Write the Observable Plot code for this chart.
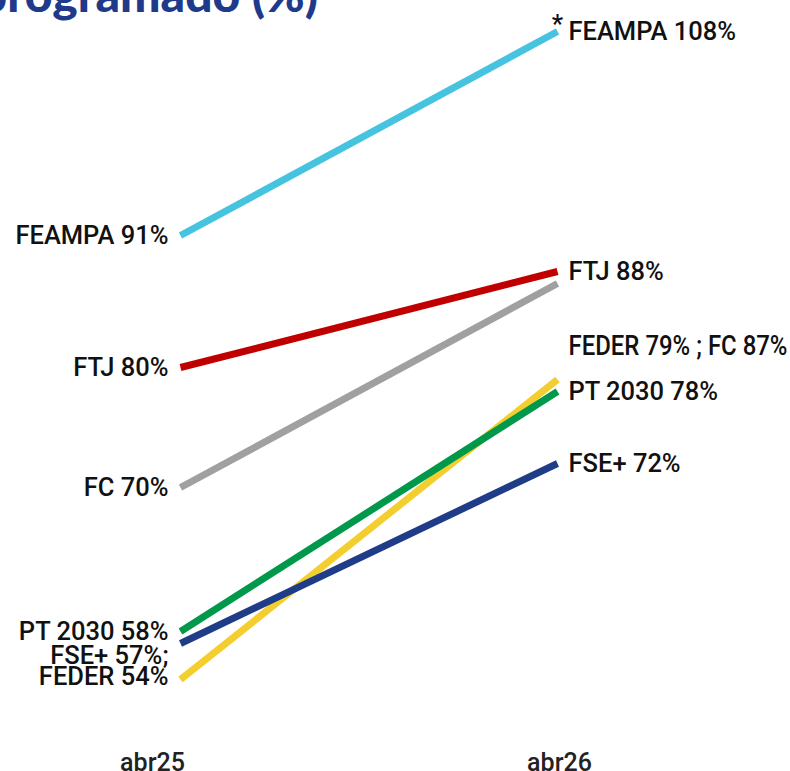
<!DOCTYPE html>
<html>
<head>
<meta charset="utf-8">
<script src="https://cdn.jsdelivr.net/npm/d3@7"></script>
<script src="https://cdn.jsdelivr.net/npm/@observablehq/plot@0.6"></script>
<style>
  html, body { margin: 0; padding: 0; background: #fff; overflow: hidden; }
  #wrap { position: relative; width: 790px; height: 771px; overflow: hidden; background: #fff; }
  #chart { position: absolute; left: 0; top: 0; z-index: 1; }
  #title { position: absolute; right: 472px; top: -30px; white-space: nowrap; z-index: 2;
    font-family: Lato, sans-serif; font-weight: 900; font-size: 48px; line-height: 48px; color: #1F3A8A; }
</style>
</head>
<body>
<div id="wrap">
  <div id="chart"></div>
  <div id="title">Taxa de compromisso face ao programado (%)</div>
</div>
<script>
const periods = ["abr25", "abr26"];
const funds = ["FEDER", "FC", "PT 2030", "FSE+", "FTJ", "FEAMPA"];
const valuesAbr25 = [54, 70, 58, 57, 80, 91];
const valuesAbr26 = [79, 87, 78, 72, 88, 108];
const colors = ["#F4CE2E", "#A0A0A0", "#00984A", "#1F3C88", "#C00000", "#45C3DF"];
const leftLabels = ["FEDER 54%", "FC 70%", "PT 2030 58%", "FSE+ 57%;", "FTJ 80%", "FEAMPA 91%"];
const rightLabels = ["FEDER 79% ; FC 87%", "", "PT 2030 78%", "FSE+ 72%", "FTJ 88%", "FEAMPA 108%"];
const starNote = "*";

const rows = [];
funds.forEach((f, i) => {
  rows.push({fund: f, period: periods[0], value: valuesAbr25[i]});
  rows.push({fund: f, period: periods[1], value: valuesAbr26[i]});
});
const left = funds.map((f, i) => ({fund: f, period: periods[0], value: valuesAbr25[i], label: leftLabels[i]}));
const right = funds.map((f, i) => ({fund: f, period: periods[1], value: valuesAbr26[i], label: rightLabels[i]}));

const font = "Roboto, sans-serif";
const lbl = {fontSize: 25.5, fontWeight: 500, fill: "#111", fontFamily: font, lineAnchor: "middle"};

const chart = Plot.plot({
  width: 790,
  height: 771,
  marginTop: 7,
  marginBottom: 44,
  marginLeft: 180,
  marginRight: 233,
  x: {type: "point", domain: periods, padding: 0, axis: null},
  y: {domain: [50, 110], axis: null},
  color: {domain: funds, range: colors},
  style: {fontFamily: font, background: "transparent", overflow: "visible"},
  marks: [
    Plot.line(rows, {x: "period", y: "value", z: "fund", stroke: "fund", strokeWidth: 7, strokeLinecap: "butt"}),
    // left labels
    Plot.text(left.filter(d => d.fund !== "FSE+" && d.fund !== "FEDER"), {x: "period", y: "value", text: "label", textAnchor: "end", dx: -12, ...lbl}),
    Plot.text(left.filter(d => d.fund === "FSE+"), {x: "period", y: "value", text: "label", textAnchor: "end", dx: -12, dy: 12, ...lbl}),
    Plot.text(left.filter(d => d.fund === "FEDER"), {x: "period", y: "value", text: "label", textAnchor: "end", dx: -12, dy: -3, ...lbl}),
    // right labels
    Plot.text(right.filter(d => d.label && d.fund !== "FEDER"), {x: "period", y: "value", text: "label", textAnchor: "start", dx: 11, ...lbl}),
    Plot.text(right.filter(d => d.fund === "FEDER"), {x: "period", y: "value", text: "label", textAnchor: "start", dx: 11, dy: -33, ...lbl, fontSize: 27}),
    Plot.text(right.filter(d => d.fund === "FEAMPA"), {x: "period", y: "value", text: () => starNote, textAnchor: "middle", dx: 0, dy: -7, ...lbl}),
    // x axis labels
    Plot.text([periods[0]], {x: d => d, frameAnchor: "bottom", dy: 43, dx: -28, text: d => d, lineAnchor: "bottom", fontSize: 25, fontWeight: 500, fill: "#222", fontFamily: font}),
    Plot.text([periods[1]], {x: d => d, frameAnchor: "bottom", dy: 43, dx: 2, text: d => d, lineAnchor: "bottom", fontSize: 25, fontWeight: 500, fill: "#222", fontFamily: font})
  ]
});
document.getElementById("chart").appendChild(chart);
// condense the combined right-hand label to the width it has in the source
chart.querySelectorAll("text").forEach(t => {
  if (t.textContent === rightLabels[0]) {
    t.setAttribute("textLength", 219);
    t.setAttribute("lengthAdjust", "spacingAndGlyphs");
  }
});
</script>
</body>
</html>
